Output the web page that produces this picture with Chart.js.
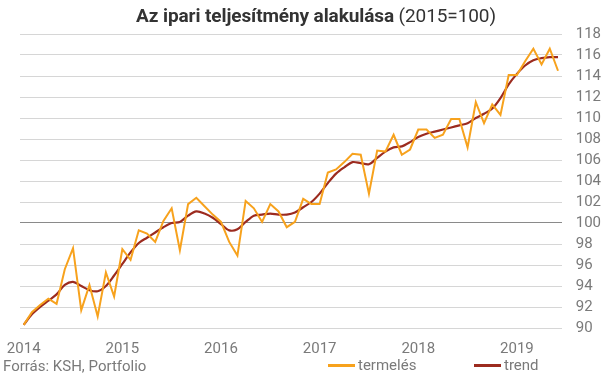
<!DOCTYPE html>
<html lang="hu">

<head>
    <meta charset="UTF-8">
    <script src="https://cdn.jsdelivr.net/npm/chart.js"></script>
    <title>Az ipari teljesítmény alakulása</title>
    <style>
        body { margin: 0; background: #fff; font-family: Roboto, sans-serif; }
        .wrap { position: relative; width: 604px; height: 378px; }
        .title { position: absolute; left: 136px; top: 4px; font-size: 19px; color: #333; white-space: nowrap; letter-spacing: -0.1px; }
        .title b { font-weight: 700; }
        .source { position: absolute; left: 3px; top: 357px; font-size: 15px; color: #7a7a7a; }
        .legend { position: absolute; top: 356px; font-size: 15px; color: #7a7a7a; }
        .legend i { display: inline-block; width: 27px; height: 3px; vertical-align: middle; margin-right: 3px; position: relative; top: -1px; }
    </style>
</head>

<body>
    <div class="wrap">
        <canvas id="chartIpar" width="604" height="378"></canvas>
        <div class="title"><b>Az ipari teljesítmény alakulása</b> (2015=100)</div>
        <div class="source">Forrás: KSH, Portfolio</div>
        <div class="legend" style="left:328px"><i style="background:#f7a21d"></i>termelés</div>
        <div class="legend" style="left:474px"><i style="background:#9c2b1f"></i>trend</div>
    </div>

<script>
    // havi adatok, 2014 január - 2019 június
    var honapok = 66;
    var evek = ['2014', '2015', '2016', '2017', '2018', '2019'];

    var termeles = [
        90.3, 91.5, 92.2, 92.8, 92.3, 95.6, 97.6, 91.7, 94.1, 91.1, 95.3, 93.0,
        97.5, 96.5, 99.3, 99.0, 98.2, 100.2, 101.4, 97.4, 101.8, 102.4, 101.6, 100.8,
        100.1, 98.2, 96.9, 102.1, 101.4, 100.1, 101.8, 101.1, 99.6, 100.1, 102.3, 101.8,
        101.8, 104.8, 105.1, 105.8, 106.6, 106.5, 102.8, 106.9, 106.8, 108.4, 106.5, 107.0,
        108.9, 108.9, 108.1, 108.4, 109.9, 109.9, 107.2, 111.5, 109.5, 111.3, 110.3, 114.1,
        114.1, 115.4, 116.6, 115.1, 116.6, 114.5
    ];

    var trend = [
        90.3, 91.3, 92.0, 92.6, 93.2, 94.1, 94.4, 94.0, 93.6, 93.5, 94.0, 95.0,
        96.1, 97.2, 98.1, 98.6, 99.1, 99.6, 100.0, 100.1, 100.7, 101.1, 100.9, 100.5,
        99.9, 99.3, 99.4, 100.1, 100.7, 100.8, 100.9, 100.8, 100.8, 101.0, 101.5, 102.0,
        102.8, 103.8, 104.7, 105.3, 105.8, 105.7, 105.6, 106.2, 106.8, 107.2, 107.3, 107.7,
        108.2, 108.5, 108.7, 108.9, 109.1, 109.3, 109.5, 110.0, 110.4, 110.9, 111.9, 113.2,
        114.2, 115.0, 115.5, 115.7, 115.8, 115.8
    ];

    var yTicks = [90, 92, 94, 96, 98, 100, 102, 104, 106, 108, 110, 112, 114, 116, 118];

    // pontok: x = hónap sorszáma
    function pontok(arr) {
        return arr.map((v, i) => ({ x: i, y: v }));
    }

    var ctx = document.getElementById('chartIpar').getContext('2d');
    var chartIpar = new Chart(ctx, {
        type: 'line',
        data: {
            datasets: [{
                label: 'termelés',
                data: pontok(termeles),
                borderColor: '#f7a21d',
                borderWidth: 2,
                pointRadius: 0,
                tension: 0
            }, {
                label: 'trend',
                data: pontok(trend),
                borderColor: '#9c2b1f',
                borderWidth: 2.2,
                pointRadius: 0,
                tension: 0.3
            }]
        },
        options: {
            responsive: false,
            animation: false,
            layout: {
                padding: { left: 20, right: -11, top: 34, bottom: 16 }
            },
            scales: {
                x: {
                    type: 'linear',
                    min: -0.45,
                    max: honapok - 1 + 0.45,
                    afterBuildTicks: (scale) => {
                        scale.ticks = evek.map((e, i) => ({ value: i * 12 }));
                    },
                    grid: { display: false },
                    border: { display: false },
                    ticks: {
                        callback: (v) => evek[Math.round(v / 12)],
                        color: '#7a7a7a',
                        font: { family: 'Roboto', size: 15 },
                        padding: 4,
                        maxRotation: 0,
                        autoSkip: false
                    }
                },
                y: {
                    position: 'right',
                    min: 90,
                    max: 118,
                    afterBuildTicks: (scale) => {
                        scale.ticks = yTicks.map(v => ({ value: v }));
                    },
                    grid: {
                        color: (c) => c.tick && c.tick.value === 100 ? '#8a8a8a' : '#d6d6d6',
                        lineWidth: 1,
                        drawTicks: false
                    },
                    border: { display: false },
                    ticks: {
                        color: '#7a7a7a',
                        font: { family: 'Roboto', size: 15 },
                        padding: 14,
                        autoSkip: false
                    }
                }
            },
            plugins: {
                legend: { display: false },
                tooltip: { enabled: false }
            }
        }
    });
</script>
</body>

</html>
